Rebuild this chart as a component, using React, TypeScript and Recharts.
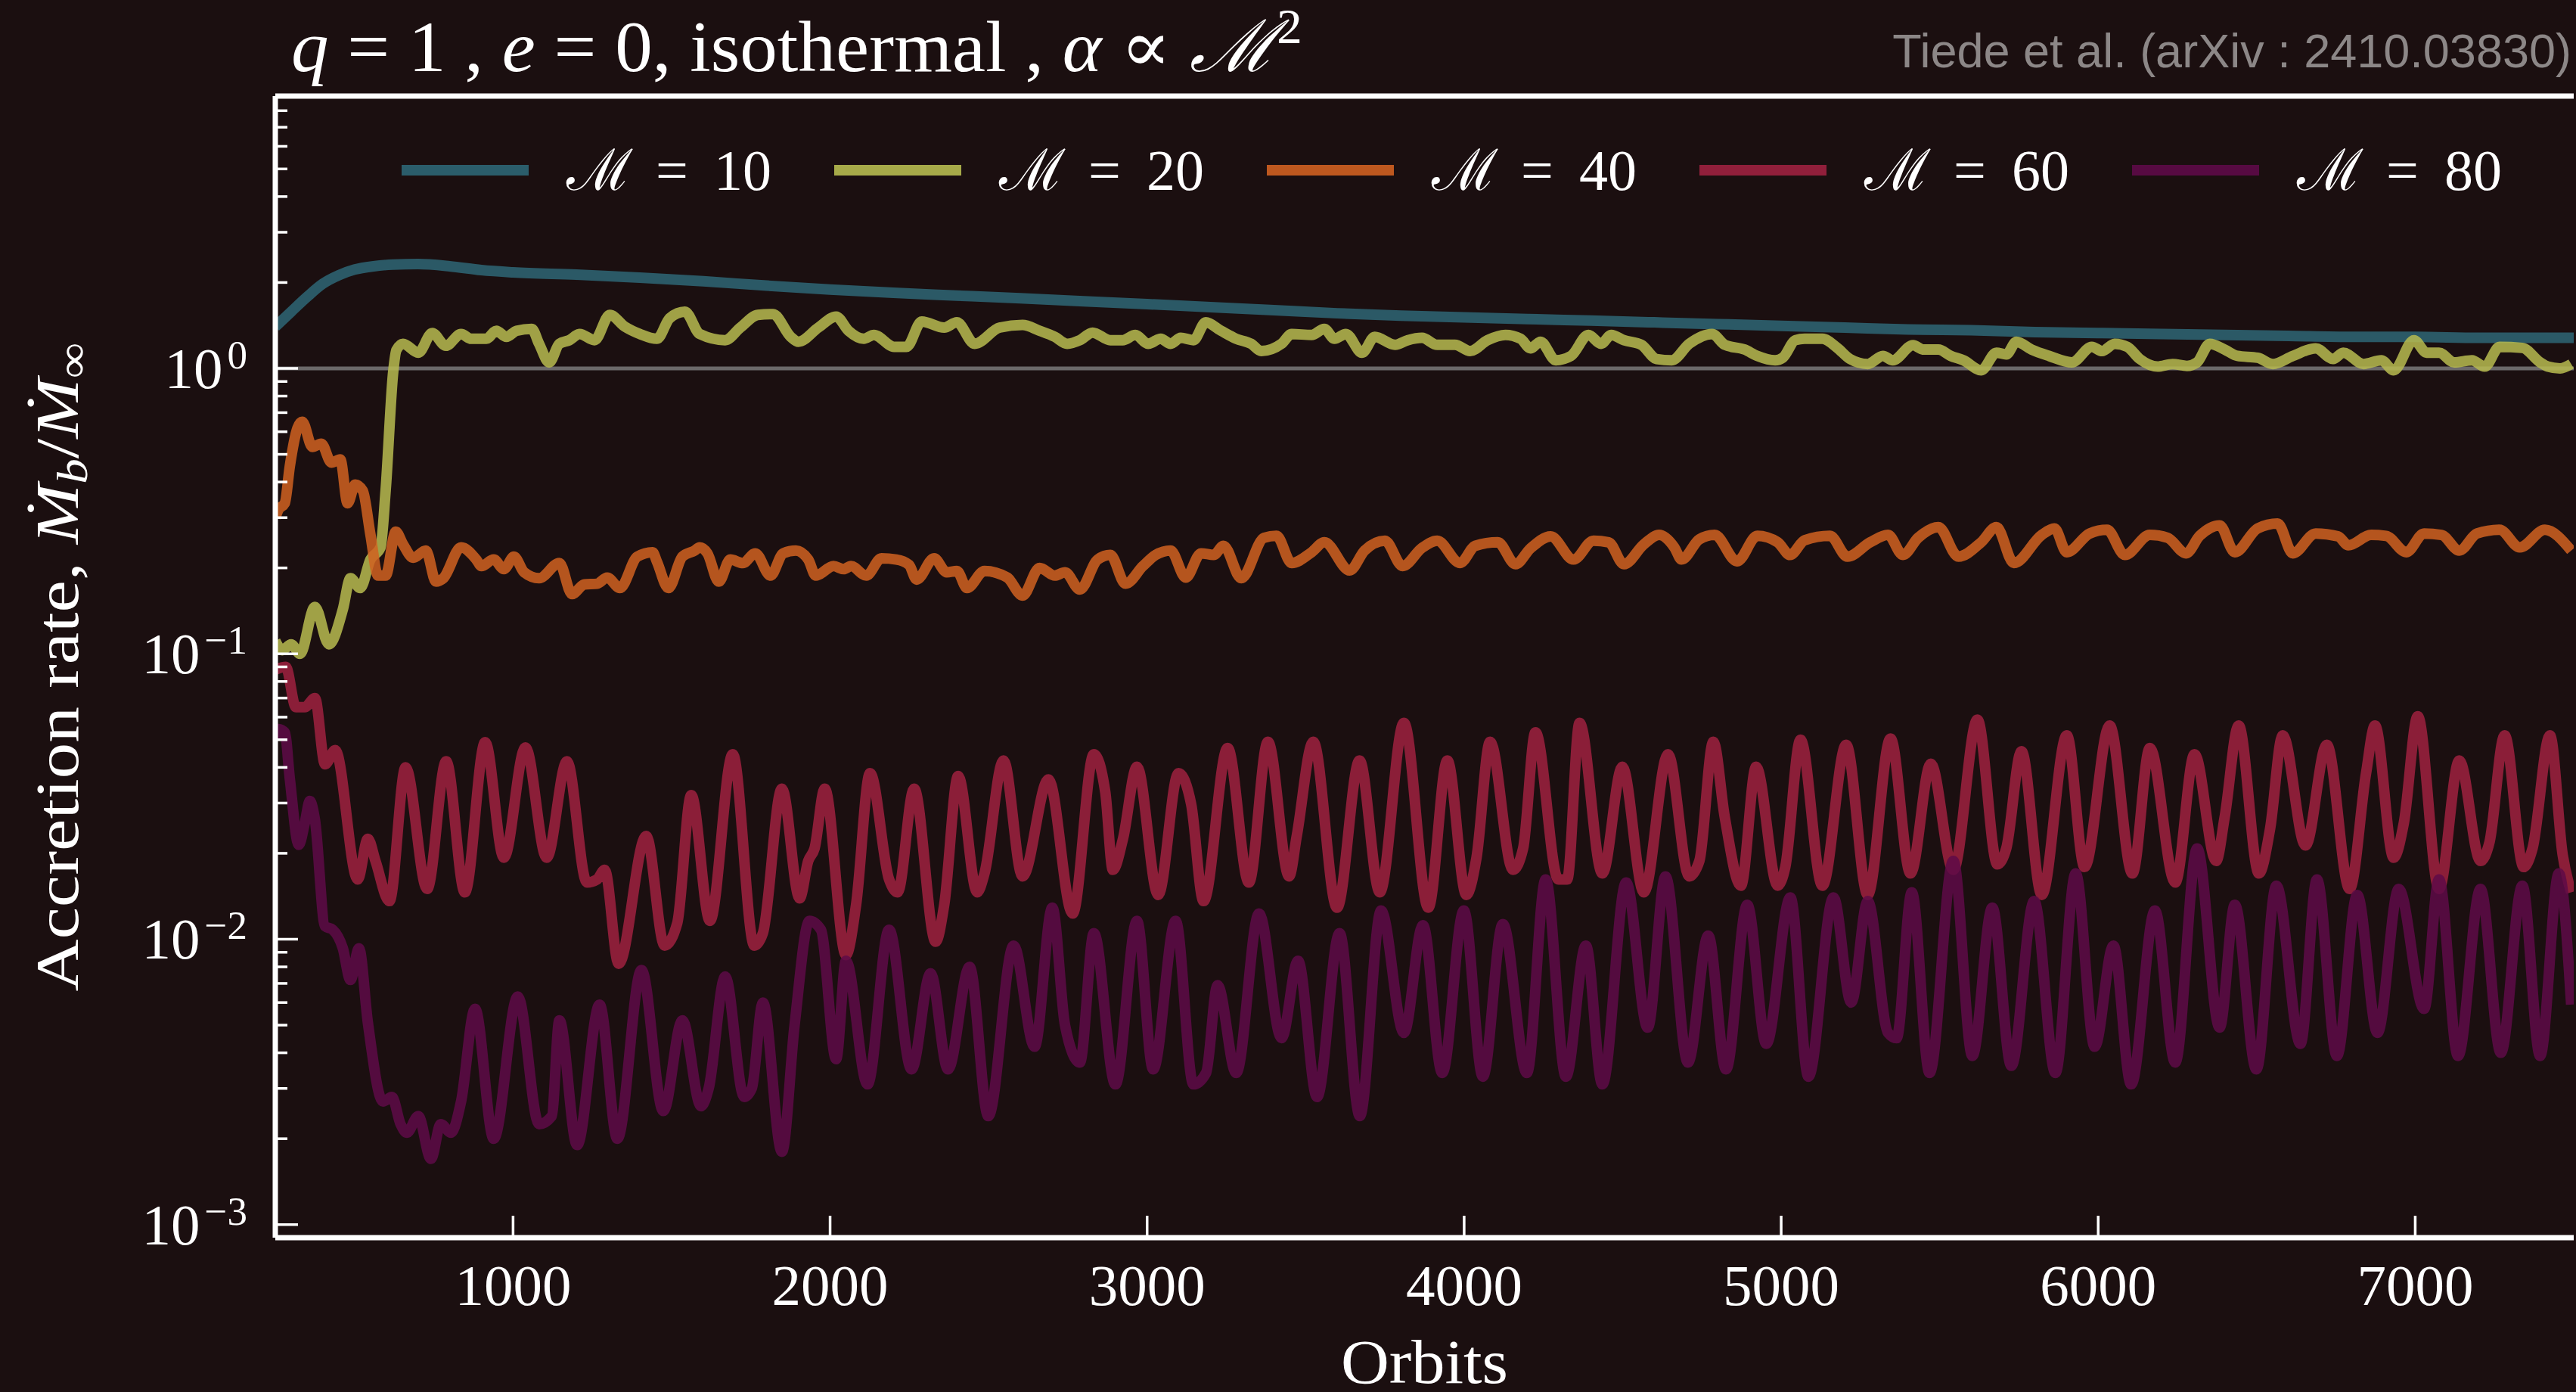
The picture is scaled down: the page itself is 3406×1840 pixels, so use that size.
import React from 'react';
import { LineChart, Line, XAxis, YAxis, ReferenceLine, Legend } from 'recharts';

const BG = '#1b0f10';
const SERIF = '"Liberation Serif", "DejaVu Serif", serif';
const SANS = '"Liberation Sans", Arimo, sans-serif';

// [orbit, accretion rate] pairs for each Mach number run
const mach10: [number, number][] = [
  [250, 1.4], [300, 1.58], [350, 1.78], [400, 1.98], [450, 2.12], [500, 2.22], [560, 2.28], [620, 2.31],
  [700, 2.32], [800, 2.28], [900, 2.21], [1000, 2.17], [1200, 2.13], [1400, 2.08], [1600, 2.02], [1800, 1.95],
  [2000, 1.89], [2200, 1.84], [2400, 1.8], [2600, 1.76], [2800, 1.72], [3000, 1.68], [3200, 1.64], [3400, 1.6],
  [3600, 1.56], [3800, 1.53], [4000, 1.51], [4200, 1.49], [4400, 1.47], [4600, 1.45], [4800, 1.43], [5000, 1.41],
  [5200, 1.39], [5400, 1.37], [5600, 1.36], [5800, 1.34], [6000, 1.33], [6200, 1.32], [6400, 1.31], [6600, 1.3],
  [6800, 1.29], [7000, 1.29], [7200, 1.28], [7500, 1.28],
];

const mach20: [number, number][] = [
  [250, 0.111], [272, 0.103], [300, 0.108], [328, 0.1], [375, 0.146], [419, 0.108], [463, 0.143], [487, 0.184],
  [518, 0.17], [550, 0.214], [582, 0.236], [598, 0.373], [622, 0.975], [632, 1.16], [653, 1.22], [701, 1.135],
  [745, 1.33], [788, 1.2], [836, 1.32], [868, 1.27], [916, 1.27], [947, 1.355], [979, 1.29], [1011, 1.355],
  [1059, 1.375], [1082, 1.22], [1114, 1.05], [1146, 1.22], [1178, 1.256], [1210, 1.32], [1257, 1.256], [1305, 1.54],
  [1353, 1.4], [1400, 1.32], [1454, 1.27], [1494, 1.5], [1542, 1.58], [1589, 1.32], [1669, 1.256], [1717, 1.39],
  [1772, 1.54], [1820, 1.55], [1876, 1.29], [1900, 1.24], [1963, 1.39], [2019, 1.52], [2058, 1.355], [2106, 1.27],
  [2138, 1.31], [2202, 1.19], [2241, 1.19], [2289, 1.46], [2360, 1.39], [2400, 1.45], [2456, 1.22], [2535, 1.39],
  [2607, 1.42], [2661, 1.355], [2709, 1.29], [2748, 1.22], [2788, 1.256], [2828, 1.335], [2884, 1.256], [2923, 1.256],
  [2963, 1.31], [3003, 1.22], [3043, 1.27], [3074, 1.22], [3106, 1.28], [3146, 1.256], [3185, 1.45], [3233, 1.355],
  [3281, 1.27], [3328, 1.22], [3360, 1.15], [3424, 1.22], [3456, 1.32], [3519, 1.31], [3559, 1.375], [3591, 1.27],
  [3627, 1.32], [3678, 1.135], [3718, 1.29], [3782, 1.21], [3822, 1.256], [3867, 1.28], [3915, 1.21], [3971, 1.21],
  [4019, 1.15], [4074, 1.256], [4130, 1.31], [4178, 1.27], [4209, 1.176], [4241, 1.24], [4289, 1.068], [4337, 1.106],
  [4392, 1.31], [4432, 1.22], [4464, 1.31], [4504, 1.256], [4559, 1.21], [4607, 1.079], [4655, 1.068], [4710, 1.22],
  [4782, 1.32], [4822, 1.21], [4885, 1.164], [4925, 1.106], [4981, 1.068], [5005, 1.09], [5045, 1.256], [5074, 1.27],
  [5130, 1.27], [5177, 1.18], [5217, 1.079], [5273, 1.036], [5321, 1.106], [5352, 1.068], [5416, 1.206], [5448, 1.164],
  [5496, 1.164], [5535, 1.106], [5575, 1.068], [5631, 0.985], [5679, 1.135], [5710, 1.12], [5742, 1.24], [5790, 1.164],
  [5845, 1.106], [5917, 1.05], [5980, 1.19], [6012, 1.15], [6052, 1.22], [6092, 1.19], [6131, 1.079], [6187, 1.015],
  [6235, 1.036], [6280, 1.02], [6312, 1.05], [6352, 1.22], [6399, 1.164], [6439, 1.106], [6503, 1.09], [6551, 1.036],
  [6614, 1.106], [6686, 1.176], [6741, 1.079], [6773, 1.135], [6837, 1.036], [6893, 1.068], [6932, 0.985], [6996, 1.256],
  [7036, 1.135], [7075, 1.135], [7123, 1.05], [7179, 1.068], [7219, 1.015], [7266, 1.19], [7338, 1.18], [7394, 1.05],
  [7418, 1.015], [7457, 1.0], [7492, 1.036],
];

const mach40: [number, number][] = [
  [250, 0.3], [260, 0.32], [280, 0.337], [296, 0.456], [320, 0.618], [335, 0.65], [367, 0.531], [395, 0.545],
  [427, 0.468], [455, 0.48], [478, 0.337], [502, 0.392], [526, 0.373], [550, 0.262], [574, 0.188], [598, 0.188],
  [630, 0.268], [653, 0.242], [685, 0.217], [725, 0.23], [757, 0.179], [780, 0.184], [836, 0.236], [884, 0.214],
  [900, 0.203], [939, 0.214], [971, 0.198], [1003, 0.219], [1035, 0.193], [1082, 0.184], [1146, 0.208], [1186, 0.162],
  [1225, 0.175], [1265, 0.176], [1297, 0.185], [1337, 0.17], [1392, 0.219], [1440, 0.227], [1454, 0.21], [1490, 0.17],
  [1534, 0.219], [1573, 0.23], [1589, 0.236], [1613, 0.225], [1649, 0.179], [1685, 0.214], [1725, 0.208], [1764, 0.225],
  [1812, 0.188], [1852, 0.225], [1892, 0.23], [1931, 0.214], [1955, 0.188], [2011, 0.203], [2043, 0.198], [2066, 0.203],
  [2114, 0.188], [2162, 0.216], [2209, 0.214], [2249, 0.205], [2273, 0.182], [2328, 0.216], [2368, 0.193], [2400, 0.195],
  [2432, 0.17], [2487, 0.195], [2559, 0.185], [2607, 0.16], [2661, 0.2], [2709, 0.188], [2741, 0.193], [2788, 0.168],
  [2844, 0.214], [2884, 0.222], [2932, 0.176], [2987, 0.203], [3027, 0.222], [3074, 0.23], [3122, 0.185], [3170, 0.225],
  [3210, 0.222], [3241, 0.239], [3297, 0.184], [3369, 0.255], [3408, 0.259], [3456, 0.208], [3519, 0.227], [3559, 0.246],
  [3639, 0.196], [3686, 0.23], [3750, 0.249], [3806, 0.203], [3867, 0.235], [3915, 0.249], [3987, 0.208], [4035, 0.239],
  [4106, 0.246], [4162, 0.206], [4209, 0.234], [4273, 0.258], [4345, 0.214], [4408, 0.249], [4456, 0.246], [4504, 0.206],
  [4567, 0.242], [4615, 0.261], [4663, 0.236], [4686, 0.214], [4742, 0.252], [4790, 0.261], [4861, 0.211], [4925, 0.259],
  [4989, 0.246], [5028, 0.222], [5074, 0.25], [5154, 0.259], [5209, 0.219], [5281, 0.246], [5337, 0.261], [5384, 0.222],
  [5432, 0.255], [5496, 0.278], [5559, 0.219], [5631, 0.246], [5679, 0.278], [5734, 0.208], [5822, 0.261], [5862, 0.275],
  [5901, 0.227], [5973, 0.264], [6028, 0.272], [6084, 0.222], [6163, 0.261], [6219, 0.255], [6277, 0.225], [6320, 0.259],
  [6383, 0.282], [6431, 0.227], [6503, 0.275], [6566, 0.286], [6614, 0.225], [6686, 0.264], [6757, 0.258], [6789, 0.24],
  [6861, 0.261], [6908, 0.259], [6972, 0.227], [7028, 0.264], [7083, 0.261], [7139, 0.23], [7195, 0.264], [7266, 0.272],
  [7330, 0.236], [7409, 0.272], [7492, 0.23],
];

const mach60: [number, number][] = [
  [250, 0.088], [283, 0.09], [315, 0.065], [343, 0.065], [375, 0.07], [407, 0.041], [439, 0.046], [510, 0.0162],
  [542, 0.0225], [566, 0.0188], [610, 0.0136], [661, 0.04], [729, 0.015], [789, 0.042], [848, 0.0146], [912, 0.049],
  [971, 0.0193], [1039, 0.047], [1106, 0.0193], [1170, 0.042], [1233, 0.0158], [1265, 0.0162], [1289, 0.0175], [1333, 0.0082],
  [1420, 0.023], [1478, 0.0095], [1518, 0.0114], [1562, 0.032], [1621, 0.0116], [1693, 0.0445], [1761, 0.0095], [1788, 0.0105],
  [1848, 0.0337], [1904, 0.0139], [1931, 0.0188], [1951, 0.0208], [1983, 0.0337], [2050, 0.0088], [2082, 0.0132], [2126, 0.0382],
  [2186, 0.0162], [2213, 0.0146], [2265, 0.0337], [2333, 0.0098], [2360, 0.0132], [2404, 0.0373], [2464, 0.0146], [2487, 0.017],
  [2547, 0.0423], [2607, 0.0166], [2689, 0.0363], [2765, 0.0123], [2832, 0.0445], [2868, 0.0328], [2892, 0.0175], [2924, 0.0225],
  [2968, 0.0402], [3035, 0.0143], [3099, 0.0382], [3139, 0.0297], [3178, 0.0136], [3254, 0.0468], [3321, 0.0158], [3381, 0.0492],
  [3448, 0.0166], [3472, 0.023], [3524, 0.0492], [3599, 0.0129], [3670, 0.0423], [3734, 0.0146], [3810, 0.0573], [3887, 0.0129],
  [3947, 0.0423], [4007, 0.0143], [4039, 0.0193], [4082, 0.0492], [4154, 0.0175], [4186, 0.0208], [4225, 0.0531], [4297, 0.0162],
  [4325, 0.0162], [4364, 0.0573], [4436, 0.017], [4499, 0.0402], [4567, 0.0146], [4643, 0.0445], [4710, 0.0166], [4742, 0.0188],
  [4786, 0.0492], [4822, 0.0268], [4873, 0.0154], [4921, 0.0402], [4989, 0.0154], [5013, 0.0179], [5061, 0.05], [5130, 0.0154],
  [5205, 0.048], [5273, 0.0143], [5345, 0.0505], [5408, 0.017], [5472, 0.0412], [5543, 0.0175], [5619, 0.0588], [5682, 0.0183],
  [5710, 0.0208], [5758, 0.0456], [5822, 0.0143], [5901, 0.0518], [5957, 0.0179], [6036, 0.0561], [6108, 0.017], [6163, 0.0468],
  [6243, 0.0158], [6304, 0.0445], [6372, 0.0188], [6399, 0.0268], [6443, 0.0561], [6507, 0.017], [6542, 0.0243], [6582, 0.0518],
  [6654, 0.0213], [6721, 0.048], [6793, 0.015], [6845, 0.0382], [6873, 0.0561], [6932, 0.0193], [6964, 0.0255], [7008, 0.0604],
  [7075, 0.015], [7139, 0.0423], [7206, 0.0188], [7234, 0.0218], [7282, 0.0518], [7342, 0.0179], [7370, 0.0208], [7425, 0.0518],
  [7465, 0.0198], [7492, 0.0146],
];

const mach80: [number, number][] = [
  [250, 0.05], [260, 0.0545], [280, 0.053], [296, 0.0363], [324, 0.0214], [343, 0.0255], [359, 0.0305], [375, 0.0262],
  [407, 0.0111], [431, 0.0108], [463, 0.0093], [487, 0.0072], [514, 0.0093], [542, 0.0051], [590, 0.0027], [618, 0.0028],
  [645, 0.00225], [665, 0.0021], [701, 0.0024], [741, 0.0017], [772, 0.00225], [804, 0.0021], [836, 0.0027], [880, 0.0057],
  [939, 0.002], [1015, 0.0063], [1082, 0.00225], [1122, 0.0024], [1146, 0.0052], [1202, 0.0019], [1273, 0.0059], [1329, 0.002],
  [1405, 0.0078], [1474, 0.0025], [1534, 0.0052], [1593, 0.0026], [1617, 0.003], [1669, 0.0074], [1729, 0.0028], [1753, 0.003],
  [1788, 0.006], [1848, 0.0018], [1888, 0.005], [1935, 0.0116], [1971, 0.0108], [2019, 0.0038], [2050, 0.0084], [2118, 0.0031],
  [2186, 0.0108], [2257, 0.0035], [2317, 0.0076], [2372, 0.0035], [2440, 0.008], [2499, 0.0024], [2579, 0.0095], [2645, 0.0042],
  [2701, 0.0129], [2741, 0.005], [2788, 0.0037], [2832, 0.0105], [2900, 0.0031], [2968, 0.0116], [3019, 0.0035], [3090, 0.0116],
  [3146, 0.0031], [3186, 0.0034], [3222, 0.0069], [3281, 0.0034], [3353, 0.0123], [3424, 0.0045], [3476, 0.0084], [3536, 0.0028],
  [3607, 0.0105], [3671, 0.0024], [3738, 0.0126], [3810, 0.0047], [3870, 0.0112], [3931, 0.0034], [3999, 0.0126], [4059, 0.0033],
  [4122, 0.0113], [4198, 0.0034], [4257, 0.0162], [4321, 0.0033], [4384, 0.0095], [4436, 0.0031], [4511, 0.0158], [4579, 0.0049],
  [4635, 0.0166], [4706, 0.0037], [4770, 0.0103], [4826, 0.0035], [4893, 0.0132], [4953, 0.0043], [5029, 0.014], [5086, 0.0033],
  [5165, 0.014], [5221, 0.006], [5273, 0.0136], [5337, 0.0047], [5364, 0.0045], [5412, 0.0146], [5468, 0.0034], [5543, 0.0188],
  [5603, 0.0039], [5666, 0.0129], [5726, 0.0036], [5798, 0.0136], [5865, 0.0034], [5929, 0.017], [5989, 0.0042], [6048, 0.0095],
  [6104, 0.0031], [6179, 0.0126], [6243, 0.0037], [6312, 0.0208], [6383, 0.0049], [6431, 0.0132], [6499, 0.0035], [6562, 0.0154],
  [6638, 0.0043], [6690, 0.0162], [6753, 0.0039], [6817, 0.0143], [6881, 0.0047], [6948, 0.015], [7028, 0.0057], [7075, 0.0162],
  [7135, 0.0039], [7206, 0.015], [7270, 0.004], [7338, 0.0154], [7394, 0.0039], [7453, 0.017], [7492, 0.0059],
];

const machNumbers = [10, 20, 40, 60, 80];
const seriesPoints = [mach10, mach20, mach40, mach60, mach80];
const seriesColors = ['#2e6676', '#b7bb50', '#d06121', '#9f2140', '#5e0a48'];

const orbitTicks = [1000, 2000, 3000, 4000, 5000, 6000, 7000];
const rateMajorTicks = [0.001, 0.01, 0.1, 1];
const rateMinorTicks = [
  0.002, 0.003, 0.004, 0.005, 0.006, 0.007, 0.008, 0.009,
  0.02, 0.03, 0.04, 0.05, 0.06, 0.07, 0.08, 0.09,
  0.2, 0.3, 0.4, 0.5, 0.6, 0.7, 0.8, 0.9,
  2, 3, 4, 5, 6, 7, 8,
];
const rateTicks = [...rateMajorTicks, ...rateMinorTicks].sort((a, b) => a - b);

const toRows = (pts: [number, number][]) => pts.map(([orbit, rate]) => ({ orbit, rate }));

const OrbitTick = (props: any) => {
  const { x, y, payload } = props;
  return (
    <g>
      <line x1={x} y1={y} x2={x} y2={y - 29} stroke="#fff" strokeWidth={3.5} />
      <text x={x} y={y + 89} textAnchor="middle" fill="#fff" fontFamily={SERIF} fontSize={77}>
        {payload.value}
      </text>
    </g>
  );
};

const RateTick = (props: any) => {
  const { x, y, payload } = props;
  const v = payload.value as number;
  const major = rateMajorTicks.includes(v);
  const exp = Math.round(Math.log10(v));
  return (
    <g>
      <line x1={x} y1={y} x2={x + (major ? 30 : 16)} y2={y} stroke="#fff" strokeWidth={3.5} />
      {major && (
        <text x={x - 37} y={y + 26} textAnchor="end" fill="#fff" fontFamily={SERIF} fontSize={77}>
          10
          <tspan dx={6} dy={-26} fontSize={53}>
            {exp === 0 ? '0' : `\u2212${-exp}`}
          </tspan>
        </text>
      )}
    </g>
  );
};

const RateLabel = (props: any) => {
  const vb = props.viewBox || { x: 0, y: 127, width: 364, height: 1509 };
  const cy = vb.y + vb.height / 2;
  return (
    <text
      transform={`translate(103, ${cy}) rotate(-90)`}
      textAnchor="middle"
      fill="#fff"
      fontFamily={SERIF}
      fontSize={80}
      textLength={858}
      lengthAdjust="spacingAndGlyphs"
    >
      {'Accretion rate, '}
      <tspan fontStyle="italic">Ṁ</tspan>
      <tspan fontStyle="italic" fontSize={56} dy={12}>b</tspan>
      <tspan dy={-12}>/</tspan>
      <tspan fontStyle="italic">Ṁ</tspan>
      <tspan fontSize={56} dy={12}>∞</tspan>
    </text>
  );
};

const OrbitLabel = (props: any) => {
  const vb = props.viewBox || { x: 364, y: 1636, width: 3039, height: 150 };
  return (
    <text
      x={vb.x + vb.width / 2}
      y={vb.y + 192}
      textAnchor="middle"
      fill="#fff"
      fontFamily={SERIF}
      fontSize={82}
      textLength={221}
      lengthAdjust="spacingAndGlyphs"
    >
      Orbits
    </text>
  );
};

// legend: colour swatch, then a script M and "= value" as separate runs
const renderLegend = () => (
  <div style={{ display: 'flex', alignItems: 'center' }}>
    {machNumbers.map((m, i) => (
      <div key={m} style={{ display: 'flex', alignItems: 'center', width: i < machNumbers.length - 1 ? 572 : 'auto' }}>
        <div style={{ width: 168, height: 14, background: seriesColors[i], opacity: 0.9 }} />
        <span style={{ marginLeft: 50, color: '#fff', whiteSpace: 'pre', lineHeight: 1.15, display: 'flex', alignItems: 'baseline' }}>
          <span style={{ fontFamily: '"DejaVu Serif", serif', fontSize: 76 }}>ℳ</span>
          <span style={{ fontFamily: '"Liberation Serif", serif', fontSize: 76, marginLeft: 30 }}>=</span>
          <span style={{ fontFamily: '"Liberation Serif", serif', fontSize: 76, marginLeft: 34 }}>{m}</span>
        </span>
      </div>
    ))}
  </div>
);

export default function App() {
  return (
    <div style={{ position: 'absolute', left: 0, top: 0, width: 3406, height: 1840, background: BG, overflow: 'hidden' }}>
      <LineChart width={3406} height={1840} margin={{ top: 127, right: 3, bottom: 54, left: 0 }}>
        <XAxis
          dataKey="orbit"
          type="number"
          domain={[250, 7500]}
          allowDataOverflow
          ticks={orbitTicks}
          interval={0}
          height={150}
          tickSize={0}
          tickMargin={0}
          tickLine={false}
          axisLine={{ stroke: '#fff', strokeWidth: 7 }}
          tick={<OrbitTick />}
          label={<OrbitLabel />}
        />
        <YAxis
          dataKey="rate"
          type="number"
          scale="log"
          domain={[0.0009, 9]}
          allowDataOverflow
          ticks={rateTicks}
          interval={0}
          width={364}
          tickSize={0}
          tickMargin={0}
          tickLine={false}
          axisLine={{ stroke: '#fff', strokeWidth: 7 }}
          tick={<RateTick />}
          label={<RateLabel />}
        />
        <ReferenceLine y={1} stroke="#888" strokeOpacity={0.75} strokeWidth={5} />
        <ReferenceLine y={9} stroke="#fff" strokeWidth={7} />
        {seriesPoints.map((pts, i) => (
          <Line
            key={machNumbers[i]}
            data={toRows(pts)}
            dataKey="rate"
            name={`ℳ = ${machNumbers[i]}`}
            type="monotone"
            stroke={seriesColors[i]}
            strokeOpacity={0.85}
            strokeWidth={14}
            strokeLinejoin="round"
            dot={false}
            activeDot={false}
            isAnimationActive={false}
          />
        ))}
        <Legend
          layout="vertical"
          verticalAlign="middle"
          align="center"
          wrapperStyle={{ left: 531, top: 181, width: 'auto' }}
          content={renderLegend}
        />
      </LineChart>
      <svg width={3406} height={1840} style={{ position: 'absolute', left: 0, top: 0, pointerEvents: 'none' }}>
        <text x={385} y={94} fill="#fff" fontFamily={SERIF} fontSize={95} textLength={1337} lengthAdjust="spacingAndGlyphs">
          <tspan fontStyle="italic">q</tspan>
          {' = 1 , '}
          <tspan fontStyle="italic">e</tspan>
          {' = 0, isothermal , '}
          <tspan fontStyle="italic">α</tspan>
          {' ∝ '}
          <tspan fontStyle="italic">ℳ</tspan>
          <tspan fontSize={65} dy={-37}>2</tspan>
        </text>
        <text x={3400} y={89} textAnchor="end" fill="#8c8787" fontFamily={SANS} fontSize={63}>
          Tiede et al. (arXiv : 2410.03830)
        </text>
      </svg>
    </div>
  );
}
